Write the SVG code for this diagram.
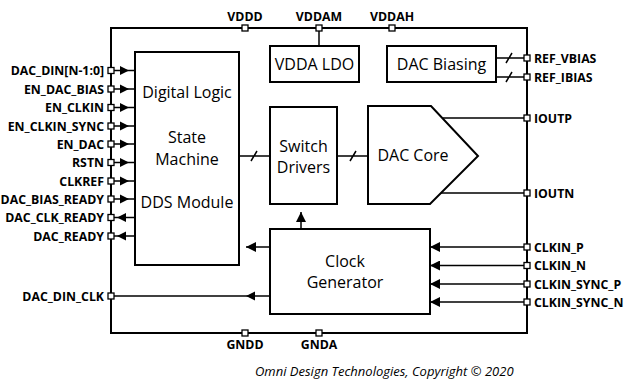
<svg xmlns="http://www.w3.org/2000/svg" width="634" height="382" viewBox="0 0 634 382">
<style>
.box{fill:#fff;stroke:#000;stroke-width:2}
.ln{fill:none;stroke:#000;stroke-width:1.5}
.pin{fill:#fff;stroke:#000;stroke-width:1.3}
.t{font-family:"Open Sans","Noto Sans",sans-serif;font-size:16px;fill:#000;text-anchor:middle}
.lb{font-family:"Open Sans","Noto Sans",sans-serif;font-size:12.3px;font-weight:bold;fill:#000}
.r{text-anchor:end}
.m{text-anchor:middle}
.cp{font-family:"Open Sans","Noto Sans",sans-serif;font-size:13px;font-style:italic;fill:#000}
</style>
<defs>
<marker id="ah" viewBox="0 0 10 10" refX="10" refY="5" markerWidth="10" markerHeight="10" markerUnits="userSpaceOnUse" orient="auto">
<path d="M0,0 L10,5 L0,10 Z" fill="#000"/>
</marker>
</defs>
<g id="outer">
<rect x="111" y="28" width="416" height="305" fill="none" stroke="#000" stroke-width="2"/>
</g>
<g id="connectors">
<path class="ln" d="M111,70.5H135 M111,89H135 M111,107.5H135 M111,126H135 M111,144H135 M111,162.5H135 M111,181H135 M111,199H135 M111,217.5H135 M111,236H135"/>
<path d="M120,66 L129,70.5 L120,75Z M120,84.5 L129,89 L120,93.5Z M120,103 L129,107.5 L120,112Z M120,121.5 L129,126 L120,130.5Z M120,139.5 L129,144 L120,148.5Z M120,158 L129,162.5 L120,167Z M120,176.5 L129,181 L120,185.5Z M120,194.5 L129,199 L120,203.5Z"/>
<path d="M126,213 L117,217.5 L126,222Z M126,231.5 L117,236 L126,240.5Z"/>
<path class="ln" d="M319,28V46"/>
<path class="ln" d="M496,58H527 M496,77H527 M506,63L512,53 M506,82L512,72"/>
<path class="ln" d="M240,156H270 M251,161L257,151"/>
<path class="ln" d="M337,156H368 M350,161L356,151"/>
<path class="ln" d="M443,118H527 M441,193H527"/>
<path class="ln" d="M301,229V212" marker-end="url(#ah)"/>
<path class="ln" d="M270,247H246" marker-end="url(#ah)"/>
<path class="ln" d="M270,296H111"/>
<path d="M255,291.5 L246,296 L255,300.5Z"/>
<path class="ln" d="M527,247H430" marker-end="url(#ah)"/>
<path class="ln" d="M527,265.5H430" marker-end="url(#ah)"/>
<path class="ln" d="M527,284H430" marker-end="url(#ah)"/>
<path class="ln" d="M527,302H430" marker-end="url(#ah)"/>
</g>
<g id="pins">
<rect class="pin" x="242" y="25" width="6" height="6"/>
<rect class="pin" x="316" y="25" width="6" height="6"/>
<rect class="pin" x="389" y="25" width="6" height="6"/>
<rect class="pin" x="242" y="330" width="6" height="6"/>
<rect class="pin" x="316" y="330" width="6" height="6"/>
<rect class="pin" x="108" y="67.5" width="6" height="6"/>
<rect class="pin" x="108" y="86" width="6" height="6"/>
<rect class="pin" x="108" y="104.5" width="6" height="6"/>
<rect class="pin" x="108" y="123" width="6" height="6"/>
<rect class="pin" x="108" y="141" width="6" height="6"/>
<rect class="pin" x="108" y="159.5" width="6" height="6"/>
<rect class="pin" x="108" y="178" width="6" height="6"/>
<rect class="pin" x="108" y="196" width="6" height="6"/>
<rect class="pin" x="108" y="214.5" width="6" height="6"/>
<rect class="pin" x="108" y="233" width="6" height="6"/>
<rect class="pin" x="108" y="293" width="6" height="6"/>
<rect class="pin" x="524" y="55" width="6" height="6"/>
<rect class="pin" x="524" y="74" width="6" height="6"/>
<rect class="pin" x="524" y="115" width="6" height="6"/>
<rect class="pin" x="524" y="190" width="6" height="6"/>
<rect class="pin" x="524" y="244" width="6" height="6"/>
<rect class="pin" x="524" y="262.5" width="6" height="6"/>
<rect class="pin" x="524" y="281" width="6" height="6"/>
<rect class="pin" x="524" y="299" width="6" height="6"/>
</g>
<g id="digital">
<rect class="box" x="135" y="52" width="104" height="213"/>
<text class="t" x="187" y="98">Digital Logic</text>
<text class="t" x="187" y="143">State</text>
<text class="t" x="187" y="165">Machine</text>
<text class="t" x="187" y="208">DDS Module</text>
</g>
<g id="ldo">
<rect class="box" x="270" y="46" width="89" height="36"/>
<text class="t" x="314.5" y="69.5">VDDA LDO</text>
</g>
<g id="biasing">
<rect class="box" x="387" y="46" width="109" height="36"/>
<text class="t" x="441.5" y="69.5">DAC Biasing</text>
</g>
<g id="switch">
<rect class="box" x="270" y="107" width="67" height="97"/>
<text class="t" x="303.5" y="152">Switch</text>
<text class="t" x="303.5" y="173">Drivers</text>
</g>
<g id="daccore">
<path class="box" d="M368,106H431L478,156L430,204H368Z"/>
<text class="t" x="413" y="161">DAC Core</text>
</g>
<g id="clockgen">
<rect class="box" x="270" y="229" width="160" height="85"/>
<text class="t" x="345" y="267">Clock</text>
<text class="t" x="345" y="288">Generator</text>
</g>
<g id="labels">
<text class="lb m" x="245" y="21">VDDD</text>
<text class="lb m" x="319" y="21">VDDAM</text>
<text class="lb m" x="392" y="21">VDDAH</text>
<text class="lb m" x="245" y="349">GNDD</text>
<text class="lb m" x="319" y="349">GNDA</text>
<text class="lb r" x="104" y="75">DAC_DIN[N-1:0]</text>
<text class="lb r" x="104" y="93.5">EN_DAC_BIAS</text>
<text class="lb r" x="104" y="112">EN_CLKIN</text>
<text class="lb r" x="104" y="130.5">EN_CLKIN_SYNC</text>
<text class="lb r" x="104" y="148.5">EN_DAC</text>
<text class="lb r" x="104" y="167">RSTN</text>
<text class="lb r" x="104" y="185.5">CLKREF</text>
<text class="lb r" x="104" y="203.5">DAC_BIAS_READY</text>
<text class="lb r" x="104" y="222">DAC_CLK_READY</text>
<text class="lb r" x="104" y="240.5">DAC_READY</text>
<text class="lb r" x="104" y="300.5">DAC_DIN_CLK</text>
<text class="lb" x="534" y="62.5">REF_VBIAS</text>
<text class="lb" x="534" y="81.5">REF_IBIAS</text>
<text class="lb" x="534" y="122.5">IOUTP</text>
<text class="lb" x="534" y="197.5">IOUTN</text>
<text class="lb" x="534" y="251.5">CLKIN_P</text>
<text class="lb" x="534" y="270">CLKIN_N</text>
<text class="lb" x="534" y="288.5">CLKIN_SYNC_P</text>
<text class="lb" x="534" y="306.5">CLKIN_SYNC_N</text>
<text class="cp" x="255" y="376">Omni Design Technologies, Copyright © 2020</text>
</g>
</svg>
